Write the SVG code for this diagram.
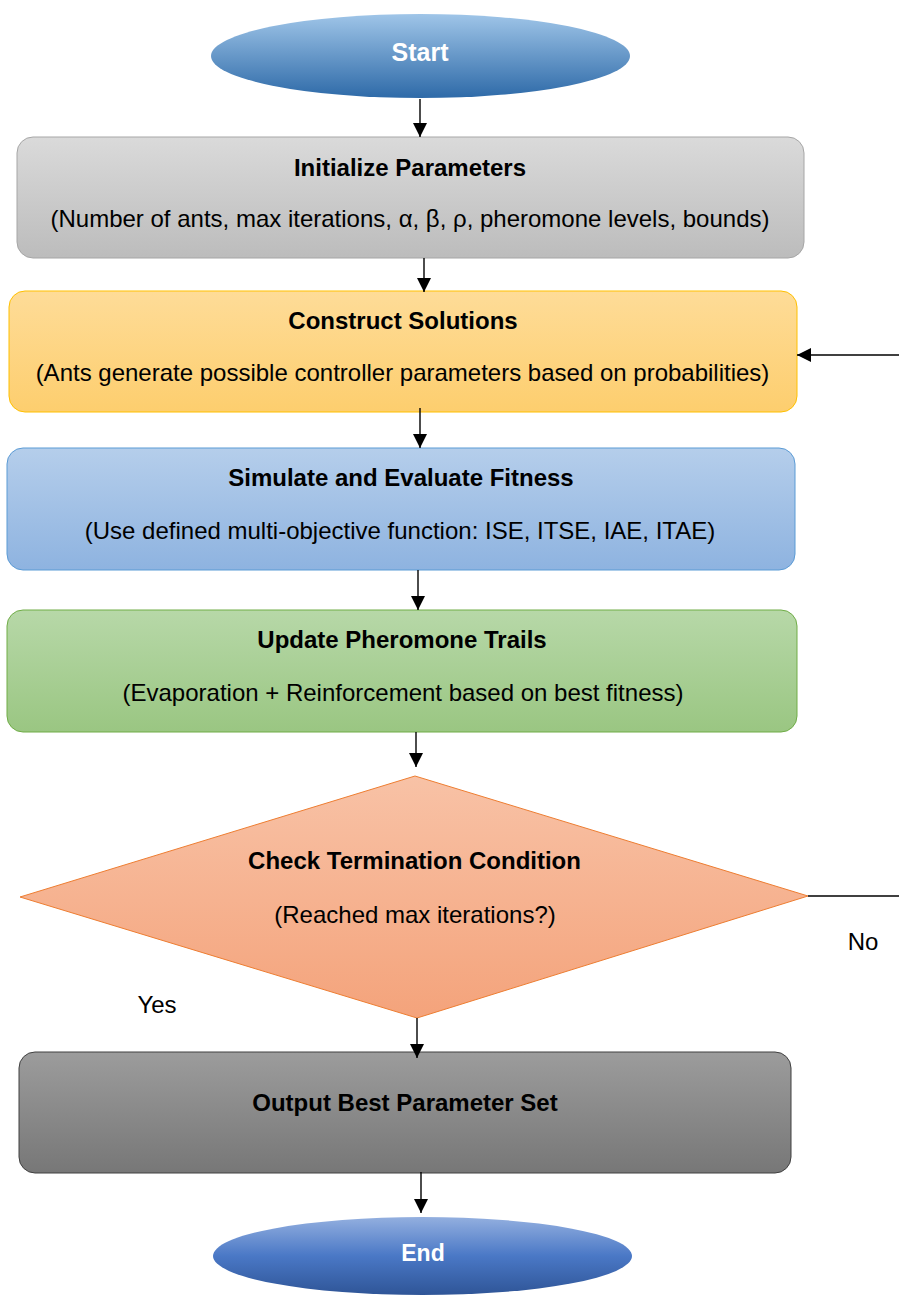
<svg xmlns="http://www.w3.org/2000/svg" width="899" height="1295" viewBox="0 0 899 1295">
<defs>
<linearGradient id="gStart" x1="0" y1="0" x2="0" y2="1"><stop offset="0" stop-color="#9fc5e8"/><stop offset="1" stop-color="#2e6aa8"/></linearGradient>
<linearGradient id="gEnd" x1="0" y1="0" x2="0" y2="1"><stop offset="0" stop-color="#93afdf"/><stop offset="0.5" stop-color="#4a78c6"/><stop offset="1" stop-color="#2f5597"/></linearGradient>
<linearGradient id="gInit" x1="0" y1="0" x2="0" y2="1"><stop offset="0" stop-color="#dadada"/><stop offset="1" stop-color="#bcbcbc"/></linearGradient>
<linearGradient id="gCons" x1="0" y1="0" x2="0" y2="1"><stop offset="0" stop-color="#fedc98"/><stop offset="1" stop-color="#fdce6e"/></linearGradient>
<linearGradient id="gSim" x1="0" y1="0" x2="0" y2="1"><stop offset="0" stop-color="#b5ceeb"/><stop offset="1" stop-color="#8eb3e0"/></linearGradient>
<linearGradient id="gUpd" x1="0" y1="0" x2="0" y2="1"><stop offset="0" stop-color="#b7d8a8"/><stop offset="1" stop-color="#9ac682"/></linearGradient>
<linearGradient id="gChk" x1="0" y1="0" x2="0" y2="1"><stop offset="0" stop-color="#f8c2a6"/><stop offset="1" stop-color="#f4a37b"/></linearGradient>
<linearGradient id="gOut" x1="0" y1="0" x2="0" y2="1"><stop offset="0" stop-color="#9c9c9c"/><stop offset="1" stop-color="#777777"/></linearGradient>
<marker id="arr" markerWidth="14" markerHeight="14" viewBox="0 0 14 14" refX="14" refY="7" orient="auto" markerUnits="userSpaceOnUse"><path d="M0,0 L14,7 L0,14 Z" fill="#000"/></marker>
</defs>
<style>
text{font-family:"Liberation Sans",Arial,sans-serif;font-size:24px;fill:#000;text-anchor:middle}
.b{font-weight:bold}
.w{fill:#fff;font-weight:bold}
.c{stroke:#000;stroke-width:1.4;fill:none}
.ca{stroke:#000;stroke-width:1.4;fill:none;marker-end:url(#arr)}
</style>
<g id="start">
<ellipse cx="420.5" cy="56" rx="209.5" ry="42" fill="url(#gStart)"/>
<text class="w" x="420" y="61" style="font-size:25px">Start</text>
</g>
<g id="init">
<rect x="17" y="137" width="787" height="121" rx="16" fill="url(#gInit)" stroke="#a6a6a6" stroke-width="1"/>
<text class="b" x="410" y="176">Initialize Parameters</text>
<text x="410" y="227">(Number of ants, max iterations, α, β, ρ, pheromone levels, bounds)</text>
</g>
<g id="construct">
<rect x="9" y="291" width="788" height="121" rx="16" fill="url(#gCons)" stroke="#ffc000" stroke-width="1"/>
<text class="b" x="403" y="329">Construct Solutions</text>
<text x="402.5" y="381">(Ants generate possible controller parameters based on probabilities)</text>
</g>
<g id="simulate">
<rect x="7" y="448" width="788" height="122" rx="16" fill="url(#gSim)" stroke="#5b9bd5" stroke-width="1"/>
<text class="b" x="401" y="486">Simulate and Evaluate Fitness</text>
<text x="400" y="539">(Use defined multi-objective function: ISE, ITSE, IAE, ITAE)</text>
</g>
<g id="update">
<rect x="7" y="610" width="790" height="122" rx="16" fill="url(#gUpd)" stroke="#70ad47" stroke-width="1"/>
<text class="b" x="402" y="648">Update Pheromone Trails</text>
<text x="403" y="701">(Evaporation + Reinforcement based on best fitness)</text>
</g>
<g id="check">
<polygon points="415,776 808,896 417,1018 20,897" fill="url(#gChk)" stroke="#ed7d31" stroke-width="1"/>
<text class="b" x="414.5" y="869">Check Termination Condition</text>
<text x="415" y="923">(Reached max iterations?)</text>
</g>
<g id="labels">
<text x="863" y="950">No</text>
<text x="157" y="1013">Yes</text>
</g>
<g id="output">
<rect x="19" y="1052" width="772" height="121" rx="16" fill="url(#gOut)" stroke="#404040" stroke-width="1"/>
<text class="b" x="405" y="1111">Output Best Parameter Set</text>
</g>
<g id="end">
<ellipse cx="422.5" cy="1256" rx="209.5" ry="39" fill="url(#gEnd)"/>
<text class="w" x="423" y="1261" style="font-size:23px">End</text>
</g>
<g id="connectors">
<line class="ca" x1="420" y1="99" x2="420" y2="137"/>
<line class="ca" x1="424" y1="258" x2="424" y2="292"/>
<line class="ca" x1="420" y1="408" x2="420" y2="448"/>
<line class="ca" x1="418" y1="570" x2="418" y2="610"/>
<line class="ca" x1="416" y1="732" x2="416" y2="767"/>
<line class="ca" x1="417" y1="1018" x2="417" y2="1058"/>
<line class="ca" x1="421" y1="1172" x2="421" y2="1213"/>
<line class="c" x1="808" y1="896" x2="899" y2="896"/>
<line class="ca" x1="899" y1="355" x2="797" y2="355"/>
</g>
</svg>
